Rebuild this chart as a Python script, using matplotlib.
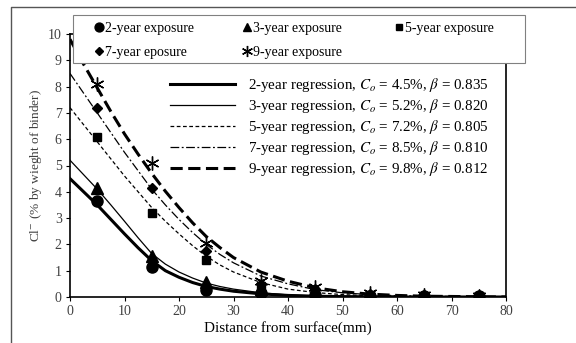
import matplotlib
matplotlib.use("Agg")
import matplotlib.pyplot as plt
from matplotlib.lines import Line2D
from matplotlib.patches import Rectangle

plt.rcParams['font.family'] = ['Liberation Serif', 'DejaVu Serif']
plt.rcParams['mathtext.fontset'] = 'stix'

# measured points
depth = [5, 15, 25, 35, 45, 55, 65, 75]
cl_2yr = [3.65, 1.15, 0.27, 0.15, 0.08, 0.03, 0.02, 0.02]
cl_3yr = [4.15, 1.55, 0.57, 0.30, 0.12, 0.05, 0.03, 0.02]
cl_5yr = [6.10, 3.20, 1.40, 0.40, 0.20, 0.08, 0.05, 0.03]
cl_7yr = [7.20, 4.15, 1.75, 0.50, 0.30, 0.10, 0.06, 0.04]
cl_9yr = [8.10, 5.10, 2.05, 0.60, 0.38, 0.14, 0.08, 0.05]

# regression curves
x_fit = [0, 2.5, 5, 7.5, 10, 12.5, 15, 17.5, 20, 22.5, 25, 27.5, 30,
         35, 40, 45, 50, 55, 60, 65, 70, 75, 80]
fit_2yr = [4.5, 4.0, 3.5, 2.95, 2.4, 1.87, 1.38, 1.0, 0.75, 0.55, 0.4, 0.3, 0.22,
           0.12, 0.06, 0.03, 0.015, 0.01, 0, 0, 0, 0, 0]
fit_3yr = [5.2, 4.65, 4.1, 3.5, 2.88, 2.25, 1.65, 1.25, 0.95, 0.72, 0.53, 0.4, 0.3,
           0.16, 0.08, 0.04, 0.02, 0.01, 0, 0, 0, 0, 0]
fit_5yr = [7.2, 6.55, 5.9, 5.25, 4.6, 4.0, 3.4, 2.88, 2.4, 1.95, 1.55, 1.22, 0.95,
           0.55, 0.3, 0.17, 0.09, 0.05, 0.03, 0.02, 0.01, 0.01, 0]
fit_7yr = [8.5, 7.75, 7.0, 6.25, 5.5, 4.8, 4.1, 3.5, 2.95, 2.45, 2.0, 1.62, 1.3,
           0.8, 0.5, 0.28, 0.16, 0.09, 0.05, 0.03, 0.02, 0.01, 0]
fit_9yr = [9.8, 8.85, 7.95, 7.05, 6.2, 5.43, 4.7, 4.02, 3.4, 2.82, 2.3, 1.88, 1.5,
           0.95, 0.6, 0.35, 0.2, 0.11, 0.06, 0.03, 0.02, 0.01, 0]

point_labels = ["2-year exposure", "3-year exposure", "5-year exposure",
                "7-year eposure", "9-year exposure"]
fit_labels = [
    r"2-year regression, $C_o$ = 4.5%, $\beta$ = 0.835",
    r"3-year regression, $C_o$ = 5.2%, $\beta$ = 0.820",
    r"5-year regression, $C_o$ = 7.2%, $\beta$ = 0.805",
    r"7-year regression, $C_o$ = 8.5%, $\beta$ = 0.810",
    r"9-year regression, $C_o$ = 9.8%, $\beta$ = 0.812",
]

fig = plt.figure(figsize=(5.76, 3.43), dpi=100)
ax = fig.add_axes([70 / 576, 1 - 297 / 343, 436 / 576, 263 / 343])

# regression lines
fit_styles = [
    dict(ls="-", lw=2.2),
    dict(ls="-", lw=0.9),
    dict(ls=(0, (3, 2)), lw=0.9),
    dict(ls=(0, (7, 2, 1.5, 2)), lw=0.9),
    dict(ls=(0, (4, 1.8)), lw=2.2),
]
fit_handles = []
for ys, st, lab in zip([fit_2yr, fit_3yr, fit_5yr, fit_7yr, fit_9yr], fit_styles, fit_labels):
    h, = ax.plot(x_fit, ys, color="black", label=lab, **st)
    fit_handles.append(h)

# data points
markers = [("o", 8), ("^", 8), ("s", 5.5), ("D", 5.5), ((6, 2, 0), 10)]
pt_handles = []
for ys, (m, s), lab in zip([cl_2yr, cl_3yr, cl_5yr, cl_7yr, cl_9yr], markers, point_labels):
    h, = ax.plot(depth, ys, ls="none", marker=m, markersize=s, color="black",
                 mew=1.0, label=lab, zorder=5)
    pt_handles.append(h)

ax.set_xlim(0, 80)
ax.set_ylim(0, 10)
ax.set_xticks(range(0, 81, 10))
ax.set_yticks(range(0, 11))
ax.tick_params(direction="out", length=3, width=0.8, labelsize=10,
               labelcolor="#404040", pad=3)
for sp in ax.spines.values():
    sp.set_linewidth(1.2)

ax.set_xlabel("Distance from surface(mm)", fontsize=10.9, labelpad=2)
ax.set_ylabel(r"Cl$^{-}$ (% by wieght of binder)", fontsize=9.6, labelpad=3,
              color="#404040")

# frame of the marker legend
fig.add_artist(Rectangle((73 / 576, 1 - 63 / 343), 452 / 576, 48 / 343,
                         transform=fig.transFigure, facecolor="white",
                         edgecolor="#808080", lw=0.8, zorder=3))

# marker legend: three columns, filled row-wise
columns = [([0, 3], 95), ([1, 4], 243), ([2], 395)]
for idx, xpx in columns:
    lg = fig.legend([pt_handles[i] for i in idx], [point_labels[i] for i in idx],
                    loc="upper left", bbox_to_anchor=(xpx / 576, 1 - 22 / 343),
                    fontsize=10, handlelength=0.6, handletextpad=0.1,
                    markerscale=0.8, frameon=False, borderpad=0,
                    labelspacing=0.8, borderaxespad=0)
    lg.set_zorder(4)

leg2 = fig.legend(fit_handles, fit_labels, loc="upper left",
                  bbox_to_anchor=(170 / 576, 1 - 76 / 343), fontsize=10.8,
                  frameon=False, handlelength=4.3, handletextpad=0.87,
                  labelspacing=0.2, borderpad=0, borderaxespad=0)

# outer chart border (clipped at right/bottom)
fig.add_artist(Line2D([11 / 576, 11 / 576, 1.0], [0.0, 1 - 7 / 343, 1 - 7 / 343],
                      transform=fig.transFigure, color="#555555", lw=1.0))

fig.savefig("out.png", dpi=100)
